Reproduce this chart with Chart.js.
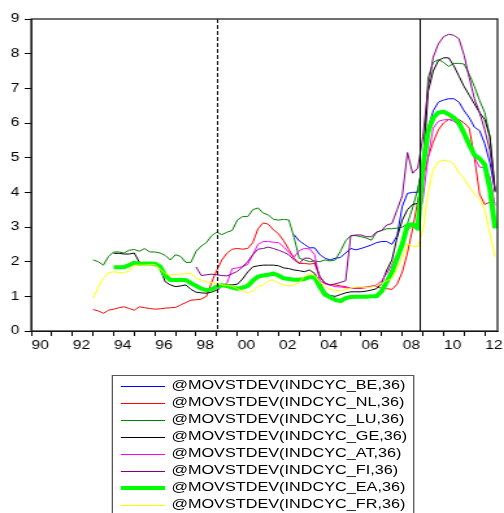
<!DOCTYPE html>
<html>
<head>
<meta charset="utf-8">
<title>Moving standard deviation of industrial cycles</title>
<script src="https://cdn.jsdelivr.net/npm/chart.js@4.4.1/dist/chart.umd.min.js"></script>
<style>
  html, body { margin: 0; padding: 0; background: #fff; overflow: hidden; }
  /* the exported original is stretched sideways, so the page is stretched the same way */
  #page { position: relative; width: 388px; height: 513px; transform: scaleX(1.299); transform-origin: 0 0; }
  #plot { position: absolute; left: 0; top: 0; width: 388px; height: 360px; }
  #legend { position: absolute; left: 86px; top: 375px; width: 233px; height: 150px; box-sizing: border-box;
            border: 1px solid #555; padding-top: 1px; font: 12.5px 'Liberation Sans', Arial, sans-serif; color: #000; }
  #legend .row { display: flex; align-items: flex-start; height: 17px; line-height: 17px; white-space: nowrap; }
  #legend .swatch { flex: none; width: 34px; margin: 9px 5px 0 6px; }
  #legend .swatch.thick { margin-top: 7px; }
</style>
</head>
<body>
<div id="page">
  <div id="plot"><canvas id="chart"></canvas></div>
  <div id="legend"></div>
</div>
<script>
// quarterly dates, 1993Q1 .. 2012Q3
const quarters = [
  1993, 1993.25, 1993.5, 1993.75, 1994, 1994.25, 1994.5, 1994.75, 1995, 1995.25, 1995.5, 1995.75, 1996, 1996.25, 1996.5, 1996.75,
  1997, 1997.25, 1997.5, 1997.75, 1998, 1998.25, 1998.5, 1998.75, 1999, 1999.25, 1999.5, 1999.75, 2000, 2000.25, 2000.5, 2000.75,
  2001, 2001.25, 2001.5, 2001.75, 2002, 2002.25, 2002.5, 2002.75, 2003, 2003.25, 2003.5, 2003.75, 2004, 2004.25, 2004.5, 2004.75,
  2005, 2005.25, 2005.5, 2005.75, 2006, 2006.25, 2006.5, 2006.75, 2007, 2007.25, 2007.5, 2007.75, 2008, 2008.25, 2008.5, 2008.75,
  2009, 2009.25, 2009.5, 2009.75, 2010, 2010.25, 2010.5, 2010.75, 2011, 2011.25, 2011.5, 2011.75, 2012, 2012.25, 2012.5
];

const seriesNames = [
  '@MOVSTDEV(INDCYC_BE,36)', '@MOVSTDEV(INDCYC_NL,36)', '@MOVSTDEV(INDCYC_LU,36)', '@MOVSTDEV(INDCYC_GE,36)',
  '@MOVSTDEV(INDCYC_AT,36)', '@MOVSTDEV(INDCYC_FI,36)', '@MOVSTDEV(INDCYC_EA,36)', '@MOVSTDEV(INDCYC_FR,36)'
];
const seriesColors = ['#0000ff', '#ff0000', '#008000', '#000000', '#ff00ff', '#800080', '#00ff00', '#ffff00'];

const be = [
  null, null, null, null, null, null, null, null, null, null, null, null, null, null, null, null,
  null, null, null, null, null, null, null, null, null, null, null, null, null, null, null, null,
  null, null, null, null, null, null, null, 2.78, 2.60, 2.50, 2.40, 2.40, 2.20, 2.10, 2.05, 2.10,
  2.12, 2.25, 2.38, 2.34, 2.38, 2.43, 2.48, 2.55, 2.58, 2.58, 2.50, 2.75, 3.60, 3.97, 4.00, 4.00,
  4.90, 5.85, 6.35, 6.60, 6.66, 6.70, 6.70, 6.60, 6.35, 6.15, 5.88, 5.78, 5.40, 4.85, 4.05
];
const nl = [
  0.62, 0.58, 0.51, 0.60, 0.63, 0.67, 0.70, 0.65, 0.60, 0.70, 0.67, 0.65, 0.63, 0.64, 0.66, 0.67,
  0.68, 0.75, 0.82, 0.89, 0.90, 0.92, 1.00, 1.40, 1.75, 2.05, 2.25, 2.36, 2.38, 2.36, 2.38, 2.55,
  2.95, 3.12, 3.08, 2.92, 2.80, 2.60, 2.35, 2.10, 1.95, 1.95, 1.93, 1.95, 1.55, 1.38, 1.33, 1.33,
  1.30, 1.28, 1.23, 1.23, 1.23, 1.25, 1.30, 1.28, 1.23, 1.22, 1.20, 1.35, 1.70, 2.25, 2.95, 3.75,
  4.40, 5.00, 5.45, 5.80, 6.00, 6.10, 6.13, 6.10, 6.00, 5.85, 5.00, 3.95, 3.65, 3.72, 3.70
];
const lu = [
  2.05, 2.00, 1.90, 2.15, 2.28, 2.28, 2.25, 2.33, 2.35, 2.30, 2.38, 2.28, 2.28, 2.25, 2.18, 2.05,
  2.20, 2.15, 1.98, 1.98, 2.30, 2.45, 2.55, 2.75, 2.85, 2.78, 2.85, 2.90, 3.20, 3.30, 3.30, 3.50,
  3.55, 3.40, 3.35, 3.22, 3.20, 3.22, 3.20, 2.70, 2.10, 2.05, 2.00, 2.02, 2.00, 2.05, 2.02, 2.05,
  2.30, 2.60, 2.75, 2.75, 2.72, 2.68, 2.62, 2.85, 2.90, 2.95, 2.95, 2.97, 3.00, 3.10, 3.55, 4.10,
  4.80, 7.30, 7.75, 7.83, 7.75, 7.63, 7.72, 7.72, 7.70, 7.40, 7.05, 6.65, 6.30, 5.60, 4.10
];
const ge = [
  null, null, null, null, 2.24, 2.24, 2.22, 2.22, 2.25, 1.98, 1.95, 1.95, 1.92, 1.80, 1.42, 1.33,
  1.28, 1.30, 1.33, 1.20, 1.12, 1.10, 1.09, 1.12, 1.18, 1.30, 1.33, 1.33, 1.35, 1.50, 1.70, 1.85,
  1.88, 1.90, 1.90, 1.90, 1.88, 1.82, 1.80, 1.76, 1.74, 1.71, 1.76, 1.66, 1.40, 1.12, 1.02, 1.00,
  1.05, 1.10, 1.13, 1.13, 1.13, 1.15, 1.18, 1.22, 1.38, 1.76, 2.05, 2.70, 3.20, 3.50, 3.65, 3.68,
  4.60, 6.90, 7.50, 7.80, 7.88, 7.88, 7.65, 7.35, 7.05, 6.80, 6.55, 6.30, 6.10, 5.60, 4.00
];
const at = [
  null, null, null, null, null, null, null, null, null, null, null, null, null, null, null, null,
  null, null, null, null, null, null, null, null, 1.15, 1.30, 1.38, 1.80, 1.82, 1.86, 1.92, 2.20,
  2.50, 2.58, 2.58, 2.56, 2.55, 2.42, 2.27, 2.13, 2.32, 2.38, 2.37, 2.20, 1.45, 1.36, 1.32, 1.28,
  1.27, 1.25, 1.23, 1.24, 1.25, 1.27, 1.28, 1.33, 1.45, 1.66, 1.92, 2.20, 2.50, 2.90, 3.05, 3.12,
  3.80, 5.00, 5.85, 6.05, 6.09, 6.10, 6.05, 5.92, 5.65, 5.40, 5.00, 4.73, 4.70, 4.45, 3.62
];
const fi = [
  null, null, null, null, null, null, null, null, null, null, null, null, null, null, null, null,
  null, null, null, null, 1.85, 1.60, 1.62, 1.64, 1.62, 1.60, 1.59, 1.65, 1.72, 1.85, 2.00, 2.20,
  2.36, 2.38, 2.42, 2.38, 2.33, 2.27, 2.20, 2.05, 1.95, 2.10, 2.10, 2.00, 1.57, 1.38, 1.33, 1.36,
  1.40, 1.45, 2.75, 2.77, 2.77, 2.72, 2.72, 2.85, 2.90, 3.06, 3.10, 3.50, 3.90, 5.15, 4.55, 4.70,
  5.60, 7.00, 7.90, 8.28, 8.49, 8.56, 8.53, 8.43, 7.95, 7.30, 6.70, 6.30, 5.80, 5.20, 4.05
];
const ea = [
  null, null, null, null, 1.84, 1.84, 1.84, 1.90, 1.97, 1.93, 1.95, 1.95, 1.94, 1.86, 1.60, 1.47,
  1.47, 1.47, 1.47, 1.38, 1.30, 1.22, 1.18, 1.20, 1.28, 1.32, 1.30, 1.25, 1.22, 1.25, 1.30, 1.45,
  1.57, 1.60, 1.62, 1.66, 1.60, 1.52, 1.50, 1.48, 1.48, 1.50, 1.55, 1.55, 1.28, 1.05, 0.97, 0.90,
  0.86, 0.95, 0.98, 0.99, 0.99, 0.99, 1.00, 1.00, 1.15, 1.42, 1.70, 2.10, 2.50, 3.05, 3.08, 2.95,
  4.70, 5.75, 6.15, 6.30, 6.33, 6.25, 6.15, 6.00, 5.70, 5.37, 5.08, 4.97, 4.80, 4.10, 2.96
];
const fr = [
  0.95, 1.25, 1.52, 1.68, 1.71, 1.68, 1.68, 1.72, 1.90, 1.90, 1.90, 1.91, 1.92, 1.78, 1.66, 1.62,
  1.63, 1.64, 1.65, 1.66, 1.52, 1.47, 1.42, 1.39, 1.38, 1.33, 1.31, 1.29, 1.22, 1.15, 1.10, 1.15,
  1.28, 1.33, 1.45, 1.47, 1.38, 1.33, 1.30, 1.33, 1.40, 1.57, 1.66, 1.60, 1.42, 1.28, 1.20, 1.17,
  1.16, 1.20, 1.23, 1.27, 1.27, 1.25, 1.27, 1.30, 1.38, 1.45, 1.52, 1.80, 2.10, 2.52, 2.45, 2.43,
  2.90, 4.00, 4.65, 4.88, 4.93, 4.90, 4.82, 4.55, 4.40, 4.15, 3.95, 3.80, 3.50, 2.80, 2.14
];

// euro introduction (dashed) and crisis onset (solid)
const breakDates = [1999.0, 2008.85];

const seriesData = [be, nl, lu, ge, at, fi, ea, fr];
const EA_INDEX = 6;

const datasets = seriesData.map((values, i) => ({
  label: seriesNames[i],
  data: values,
  borderColor: seriesColors[i],
  borderWidth: i === EA_INDEX ? 4 : 1,
  borderJoinStyle: 'round',
  pointRadius: 0,
  tension: 0,
  // later series are painted on top, as in the original
  order: seriesData.length - i
}));

const frameAndBreaks = {
  id: 'frameAndBreaks',
  afterDatasetsDraw(chart) {
    const { ctx, chartArea: area, scales } = chart;
    ctx.save();
    ctx.strokeStyle = '#000';
    ctx.lineWidth = 1;
    breakDates.forEach((date, i) => {
      const px = Math.round(scales.x.getPixelForValue(date)) + 0.5;
      ctx.setLineDash(i === 0 ? [4, 2] : []);
      ctx.beginPath();
      ctx.moveTo(px, area.top);
      ctx.lineTo(px, area.bottom);
      ctx.stroke();
    });
    ctx.setLineDash([]);
    ctx.strokeStyle = '#222';
    ctx.lineWidth = 1.3;
    ctx.strokeRect(area.left, area.top, area.right - area.left, area.bottom - area.top);
    ctx.restore();
  }
};

Chart.defaults.font.family = "'Liberation Sans', Arial, sans-serif";
Chart.defaults.font.size = 12;
Chart.defaults.color = '#000';

const tickGrid = { drawOnChartArea: false, drawTicks: true, tickLength: 5, color: '#000' };

new Chart(document.getElementById('chart'), {
  type: 'line',
  data: { labels: quarters, datasets },
  options: {
    responsive: true,
    maintainAspectRatio: false,
    animation: false,
    events: [],
    layout: { padding: { top: 19, right: 5, left: 0, bottom: 0 } },
    plugins: { legend: { display: false }, tooltip: { enabled: false } },
    scales: {
      x: {
        type: 'linear',
        min: 1990,
        max: 2012.62,
        grid: tickGrid,
        border: { display: true, color: '#000' },
        ticks: {
          stepSize: 1,
          autoSkip: false,
          includeBounds: false,
          maxRotation: 0,
          labelOffset: 7,
          padding: 2,
          color: '#000',
          callback: v => (v % 2 === 0 ? String(v).slice(2) : '')
        },
        afterFit: scale => { scale.height = 29; }
      },
      y: {
        min: 0,
        max: 9,
        grid: tickGrid,
        border: { display: true, color: '#000' },
        ticks: { stepSize: 1, padding: 4, color: '#000' },
        afterFit: scale => { scale.width = 24; }
      }
    }
  },
  plugins: [frameAndBreaks]
});

// boxed legend under the plot, one series per row
const legend = document.getElementById('legend');
seriesNames.forEach((name, i) => {
  const row = document.createElement('div');
  row.className = 'row';
  const swatch = document.createElement('div');
  swatch.className = i === EA_INDEX ? 'swatch thick' : 'swatch';
  swatch.style.height = (i === EA_INDEX ? 4 : 1) + 'px';
  swatch.style.background = seriesColors[i];
  const text = document.createElement('span');
  text.textContent = name;
  row.appendChild(swatch);
  row.appendChild(text);
  legend.appendChild(row);
});
</script>
</body>
</html>
